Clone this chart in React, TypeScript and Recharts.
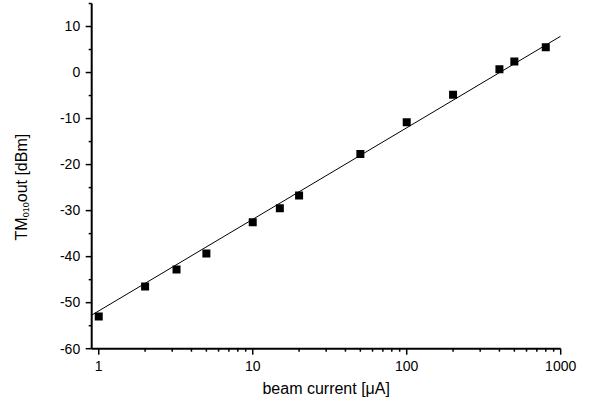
import React from 'react';
import { ComposedChart, Scatter, XAxis, YAxis, Label } from 'recharts';

const beamCurrent = [1, 2, 3.2, 5, 10, 15, 20, 50, 100, 200, 400, 500, 800];
const tmOut = [-53, -46.5, -42.8, -39.3, -32.5, -29.5, -26.7, -17.7, -10.8, -4.8, 0.7, 2.4, 5.5];
const fitCurrent = [0.9, 1000];
const fitOut = [-52.7, 7.9];

const xMajorTicks = [1, 10, 100, 1000];
const xMinorTicks = [2, 3, 4, 5, 6, 7, 8, 9, 20, 30, 40, 50, 60, 70, 80, 90, 200, 300, 400, 500, 600, 700, 800, 900];
const yMajorTicks = [-60, -50, -40, -30, -20, -10, 0, 10];
const yMinorTicks = [-55, -45, -35, -25, -15, -5, 5, 15];

const xTicks = [...xMajorTicks, ...xMinorTicks].sort((a, b) => a - b);
const yTicks = [...yMajorTicks, ...yMinorTicks].sort((a, b) => a - b);

const points = beamCurrent.map((c, i) => ({ x: c, y: tmOut[i] }));
const fit = fitCurrent.map((c, i) => ({ x: c, y: fitOut[i] }));

const FONT = '"Liberation Sans", Arial, sans-serif';

const XTick = (props: any) => {
  const { x, y, payload } = props;
  const v = payload.value;
  const major = xMajorTicks.includes(v);
  return (
    <g>
      <line x1={x} x2={x} y1={y} y2={y + (major ? 6 : 3)} stroke="#000" strokeWidth={1.5} />
      {major && (
        <text x={x} y={y + 22.7} textAnchor="middle" fontSize={14} fontFamily={FONT} fill="#000">
          {v}
        </text>
      )}
    </g>
  );
};

const YTick = (props: any) => {
  const { x, y, payload } = props;
  const v = payload.value;
  const major = yMajorTicks.includes(v);
  return (
    <g>
      <line x1={x - (major ? 6 : 3)} x2={x} y1={y} y2={y} stroke="#000" strokeWidth={1.5} />
      {major && (
        <text x={x - 11.5} y={y + 4.8} textAnchor="end" fontSize={14} fontFamily={FONT} fill="#000">
          {v}
        </text>
      )}
    </g>
  );
};

const YLabel = (props: any) => {
  const vb = props.viewBox || {};
  const x = (vb.x || 0) + 27;
  const y = (vb.y || 0) + (vb.height || 0) / 2 + 11;
  return (
    <text
      x={x}
      y={y}
      transform={`rotate(-90, ${x}, ${y})`}
      textAnchor="middle"
      fontSize={16}
      fontFamily={FONT}
      fill="#000"
    >
      TM
      <tspan fontSize={9} dy={2}>010</tspan>
      <tspan dy={-2}>out [dBm]</tspan>
    </text>
  );
};

const XLabel = (props: any) => {
  const vb = props.viewBox || {};
  const x = (vb.x || 0) + (vb.width || 0) / 2;
  const y = (vb.y || 0) + 45;
  return (
    <text x={x} y={y} textAnchor="middle" fontSize={16} fontFamily={FONT} fill="#000">
      beam current [μA]
    </text>
  );
};

export default function App() {
  return (
    <div style={{ position: 'absolute', left: 0, top: 0, background: '#fff' }}>
      <ComposedChart
        width={594}
        height={406}
        margin={{ top: 3.5, right: 33.3, bottom: 0, left: 0 }}
      >
        <XAxis
          dataKey="x"
          type="number"
          scale="log"
          domain={[0.9, 1000]}
          allowDataOverflow
          ticks={xTicks}
          interval={0}
          tick={<XTick />}
          tickLine={false}
          tickSize={0}
          tickMargin={0}
          height={57.3}
          axisLine={{ stroke: '#000', strokeWidth: 2 }}
        >
          <Label content={<XLabel />} />
        </XAxis>
        <YAxis
          dataKey="y"
          type="number"
          domain={[-60, 15]}
          allowDataOverflow
          ticks={yTicks}
          interval={0}
          tick={<YTick />}
          tickLine={false}
          tickSize={0}
          tickMargin={0}
          width={91.7}
          axisLine={{ stroke: '#000', strokeWidth: 2 }}
        >
          <Label content={<YLabel />} />
        </YAxis>
        <Scatter
          data={fit}
          line={{ stroke: '#000', strokeWidth: 1 }}
          shape={() => null}
          fill="#000"
          isAnimationActive={false}
        />
        <Scatter
          data={points}
          shape="square"
          size={81}
          fill="#000"
          isAnimationActive={false}
        />
      </ComposedChart>
    </div>
  );
}
